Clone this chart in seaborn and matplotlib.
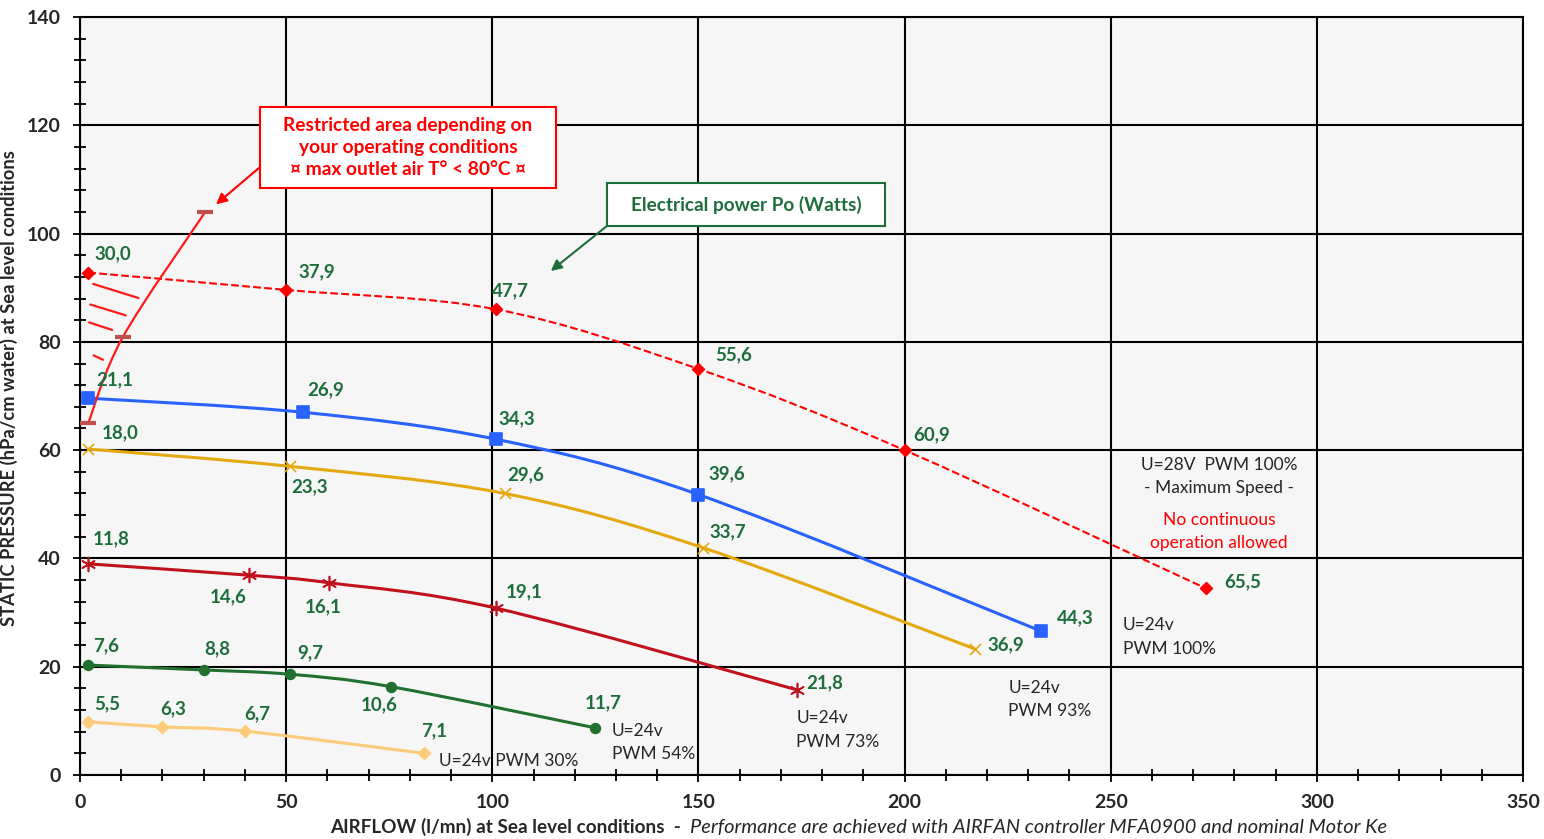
import numpy as np
import pandas as pd
import matplotlib
matplotlib.use("Agg")
import matplotlib.pyplot as plt
import seaborn as sns
from matplotlib.path import Path
from matplotlib.patches import PathPatch, Rectangle
from matplotlib.ticker import MultipleLocator

# --- data --------------------------------------------------------------
# U=28V PWM 100% (max speed, dashed)
flow_28v = [2, 50, 101, 150, 200, 273]
pres_28v = [92.8, 89.6, 86.0, 75.0, 60.0, 34.5]
pow_28v = ["30,0", "37,9", "47,7", "55,6", "60,9", "65,5"]

# U=24v PWM 100%
flow_100 = [2, 54, 101, 150, 233]
pres_100 = [69.6, 67.0, 62.0, 51.8, 26.6]
pow_100 = ["21,1", "26,9", "34,3", "39,6", "44,3"]

# U=24v PWM 93%
flow_93 = [2, 51, 103, 151, 217]
pres_93 = [60.2, 57.0, 52.0, 42.0, 23.3]
pow_93 = ["18,0", "23,3", "29,6", "33,7", "36,9"]

# U=24v PWM 73%
flow_73 = [2, 41, 60.5, 101, 174]
pres_73 = [39.0, 36.9, 35.5, 30.8, 15.7]
pow_73 = ["11,8", "14,6", "16,1", "19,1", "21,8"]

# U=24v PWM 54%
flow_54 = [2, 30, 51, 75.5, 125]
pres_54 = [20.3, 19.4, 18.6, 16.3, 8.7]
pow_54 = ["7,6", "8,8", "9,7", "10,6", "11,7"]

# U=24v PWM 30%
flow_30 = [2, 20, 40, 83.5]
pres_30 = [9.8, 8.9, 8.1, 4.0]
pow_30 = ["5,5", "6,3", "6,7", "7,1"]

# restricted-area limit curve
flow_lim = [2, 10.4, 30.3]
pres_lim = [65.0, 80.9, 103.9]

# label offsets (x, y) in data units for the power values
off_28v = [(6, 3.4), (7.5, 3.4), (3.5, 3.4), (8.5, 2.6), (6.5, 2.9), (9, 1.2)]
off_100 = [(6.5, 3.4), (5.5, 4.1), (5, 3.8), (7, 3.8), (8.5, 2.5)]
off_93 = [(7.7, 3.0), (4.8, -3.8), (5, 3.4), (6, 3.0), (7.5, 0.8)]
off_73 = [(5.6, 4.6), (-5, -3.9), (-1.5, -4.5), (6.7, 3.0), (6.7, 1.3)]
off_54 = [(4.3, 3.5), (3.4, 3.9), (4.8, 4.0), (-2.9, -3.3), (2, 4.7)]
off_30 = [(4.5, 3.3), (2.5, 3.3), (3, 3.3), (2.5, 4.1)]

# hatch strokes of the restricted area (x0, y0, x1, y1)
hatch = [(3.2, 90.7, 14.2, 88.1), (2.5, 86.9, 11.1, 84.9),
         (2.2, 83.6, 7.8, 82.2), (3.3, 77.5, 5.6, 76.7)]

# call-out boxes (x0, y0, x1, y1) and arrow tips
box_restricted = (43.7, 108.4, 115.4, 123.4)
tip_restricted = (33, 105.4)
box_power = (127.8, 101.4, 195.2, 109.3)
tip_power = (114.2, 93.1)

GREEN_TXT = "#1e6e3c"


def smooth_path(xs, ys):
    # Excel-like smoothed line: Catmull-Rom segments as cubic Bezier
    pts = np.column_stack([xs, ys]).astype(float)
    ext = np.vstack([pts[0], pts, pts[-1]])
    verts = [pts[0]]
    codes = [Path.MOVETO]
    for i in range(1, len(ext) - 2):
        p0, p1, p2, p3 = ext[i - 1], ext[i], ext[i + 1], ext[i + 2]
        c1 = p1 + (p2 - p0) / 6.0
        c2 = p2 - (p3 - p1) / 6.0
        verts += [c1, c2, p2]
        codes += [Path.CURVE4] * 3
    return Path(verts, codes)


def callout(ax, box, tip, start_y, text, color, **kw):
    x0, y0, x1, y1 = box
    ax.add_patch(Rectangle((x0, y0), x1 - x0, y1 - y0, fc="white", ec=color,
                           lw=1.5, zorder=6))
    ax.text((x0 + x1) / 2, (y0 + y1) / 2, text, ha="center", va="center",
            color=color, fontweight="bold", zorder=7, **kw)
    ax.annotate("", xy=tip, xytext=(x0, start_y),
                arrowprops=dict(arrowstyle="-|>", color=color, lw=1.5,
                                mutation_scale=16, shrinkA=0, shrinkB=0),
                zorder=6)


sns.set_theme(style="white")
plt.rcParams["font.family"] = ["Lato", "DejaVu Sans"]

fig = plt.figure(figsize=(15.44, 8.39), dpi=100)
ax = fig.add_axes([0.0518, 0.0763, 0.9346, 0.9034])
ax.set_facecolor("#f6f6f6")

series = [
    (flow_28v, pres_28v, pow_28v, off_28v, "#ff0000", "D", 6, "--", 1.5),
    (flow_100, pres_100, pow_100, off_100, "#2962ff", "s", 8, "-", 2.2),
    (flow_93, pres_93, pow_93, off_93, "#e3a90e", "x", 8, "-", 2.2),
    (flow_73, pres_73, pow_73, off_73, "#c0121c", (6, 2, 0), 10, "-", 2.2),
    (flow_54, pres_54, pow_54, off_54, "#22702e", "o", 7, "-", 2.2),
    (flow_30, pres_30, pow_30, off_30, "#fdcc7a", "D", 6, "-", 2.2),
]

for xs, ys, labels, offs, col, mk, ms, ls, lw in series:
    ax.add_patch(PathPatch(smooth_path(xs, ys), facecolor="none", edgecolor=col,
                           lw=lw, linestyle=ls, zorder=3))
    df = pd.DataFrame({"flow": xs, "pres": ys})
    sns.scatterplot(data=df, x="flow", y="pres", marker=mk, s=ms ** 2, color=col,
                    edgecolor=col if mk not in ("x", (6, 2, 0)) else None,
                    linewidth=1.2, ax=ax, zorder=4, legend=False)
    for x, y, t, (dx, dy) in zip(xs, ys, labels, offs):
        ax.text(x + dx, y + dy, t, color=GREEN_TXT, fontsize=13.5, fontweight="bold",
                ha="center", va="center", zorder=5)

# restricted-area limit curve
ax.add_patch(PathPatch(smooth_path(flow_lim, pres_lim), facecolor="none",
                       edgecolor="#ff1a1a", lw=1.6, zorder=3))
sns.scatterplot(x=flow_lim, y=pres_lim, marker="_", s=130, color="#c0504d",
                linewidth=3, ax=ax, zorder=4, legend=False)
for x0, y0, x1, y1 in hatch:
    ax.plot([x0, x1], [y0, y1], color="#ff1a1a", lw=1.6, zorder=3)

# curve names
txt_kw = dict(fontsize=12.5, color="#262626", zorder=5, linespacing=1.55)
ax.text(87.2, 2.6, "U=24v PWM 30%", ha="left", va="center", **txt_kw)
ax.text(129, 6.0, "U=24v\nPWM 54%", ha="left", va="center", **txt_kw)
ax.text(173.7, 8.3, "U=24v\nPWM 73%", ha="left", va="center", **txt_kw)
ax.text(225.2, 13.9, "U=24v\nPWM 93%", ha="left", va="center", **txt_kw)
ax.text(253, 25.5, "U=24v\nPWM 100%", ha="left", va="center", **txt_kw)
ax.text(276.3, 55.1, "U=28V  PWM 100%\n- Maximum Speed -", ha="center",
        va="center", **txt_kw)
ax.text(276.3, 45.0, "No continuous\noperation allowed", ha="center", va="center",
        fontsize=12.5, color="#ff0000", zorder=5, linespacing=1.55)

# call-out boxes
callout(ax, box_restricted, tip_restricted, 112.3,
        "Restricted area depending on\nyour operating conditions\n"
        "\u00a4 max outlet air T\u00b0 < 80\u00b0C \u00a4",
        "#ff0000", fontsize=13.8, linespacing=1.35)
callout(ax, box_power, tip_power, box_power[1], "Electrical power Po (Watts)",
        "#1e6e3c", fontsize=13.7)

# axes
ax.set_xlim(0, 350)
ax.set_ylim(0, 140)
ax.xaxis.set_major_locator(MultipleLocator(50))
ax.xaxis.set_minor_locator(MultipleLocator(10))
ax.yaxis.set_major_locator(MultipleLocator(20))
ax.yaxis.set_minor_locator(MultipleLocator(4))
ax.grid(True, which="major", color="black", lw=1.5, zorder=1)
ax.set_axisbelow(True)
for s in ax.spines.values():
    s.set_color("black")
    s.set_linewidth(1.5)
ax.tick_params(which="both", direction="inout", color="black", width=1.3,
               labelsize=14)
ax.tick_params(which="major", length=10, pad=9)
ax.tick_params(which="minor", length=8)
ax.tick_params(axis="x", which="both", bottom=True)
ax.tick_params(axis="y", which="both", left=True)
for lab in ax.get_xticklabels() + ax.get_yticklabels():
    lab.set_fontweight("bold")
ax.set_xlabel("")
ax.set_ylabel("STATIC PRESSURE (hPa/cm water) at Sea level conditions",
              fontsize=13.2, fontweight="bold")
ax.yaxis.set_label_coords(-0.043, 0.51)

fig.text(0.447, 0.004, "AIRFLOW (l/mn) at Sea level conditions  -  ", ha="right",
         va="bottom", fontsize=13.6, fontweight="bold", color="#262626")
fig.text(0.447, 0.004, "Performance are achieved with AIRFAN controller MFA0900 and nominal Motor Ke",
         ha="left", va="bottom", fontsize=14.4, style="italic", color="#262626")

fig.savefig("out.png", dpi=100)
